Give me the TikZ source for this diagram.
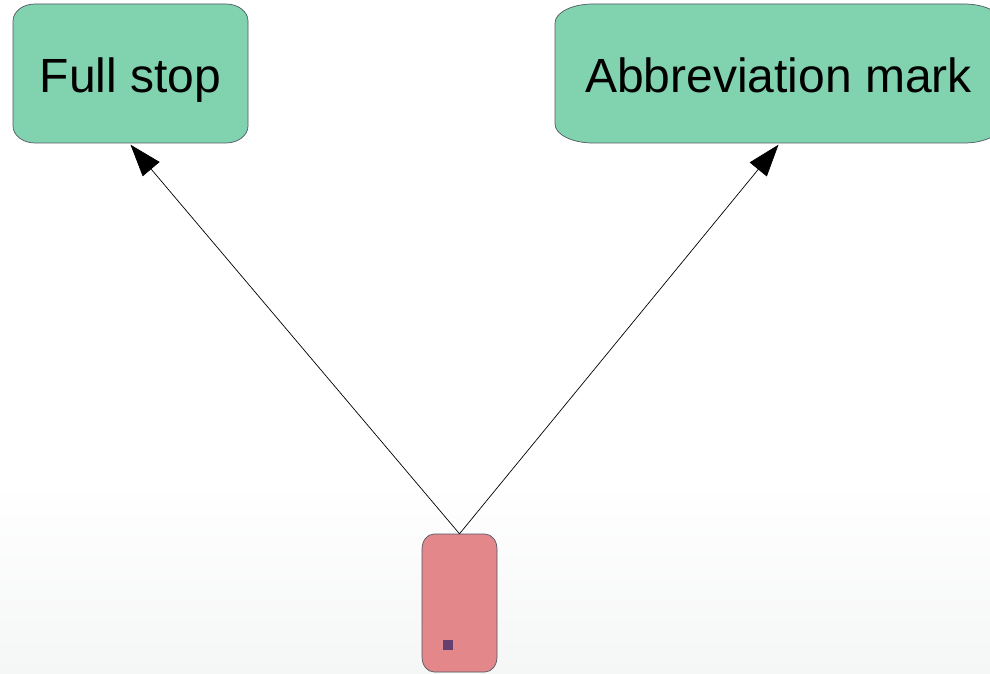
\documentclass[tikz,border=0pt]{standalone}
\usepackage{fontspec}
\setmainfont{Liberation Sans}
\usetikzlibrary{arrows.meta}
\definecolor{boxgreen}{HTML}{81D3AF}
\definecolor{boxpink}{HTML}{E3878B}
\definecolor{sqpurple}{HTML}{634070}
\definecolor{edgegray}{HTML}{4E5862}
\definecolor{bgbottom}{HTML}{F5F6F6}
\newcommand\ellbox[7]{% style, x1,y1,x2,y2,rx,ry
  \path[#1] (#2+#6,#5) -- (#4-#6,#5)
    arc[start angle=90,end angle=0,x radius=#6,y radius=#7]
    -- (#4,#3+#7)
    arc[start angle=0,end angle=-90,x radius=#6,y radius=#7]
    -- (#2+#6,#3)
    arc[start angle=270,end angle=180,x radius=#6,y radius=#7]
    -- (#2,#5-#7)
    arc[start angle=180,end angle=90,x radius=#6,y radius=#7]
    -- cycle;}
\tikzset{
  greenbox/.style={fill=boxgreen,draw=edgegray,line width=0.7pt},
  pinkbox/.style={fill=boxpink,draw=edgegray,line width=0.7pt},
  label/.style={inner sep=0pt,text height=35pt,text depth=0pt,
    font=\fontsize{48}{58}\selectfont},
  arr/.style={line width=0.7pt,-{Triangle[length=32pt,width=22pt]}}
}
\begin{document}
\begin{tikzpicture}[x=1pt,y=1pt]
\useasboundingbox (0,0) rectangle (990,673);
\fill[white] (0,0) rectangle (990,673);
\shade[top color=white,bottom color=bgbottom] (0,0) rectangle (990,190);
% boxes
\ellbox{greenbox}{13}{530}{248}{669}{22}{17}
\ellbox{greenbox}{555}{530}{1002}{669}{38}{19}
\ellbox{pinkbox}{422}{1}{497}{139}{12}{15}
\fill[sqpurple] (443,23) rectangle (453,33);
% nodes
\node[label,minimum width=235pt,minimum height=139pt] (fs) at (130.5,598) {Full stop};
\node[label,minimum width=447pt,minimum height=139pt] (ab) at (778.5,598) {Abbreviation mark};
\node[inner sep=0pt,minimum width=75pt,minimum height=138pt] (src) at (459.5,70) {};
% connectors
\draw[arr] (src.north) -- (fs.south);
\draw[arr] (src.north) -- (ab.south);
\end{tikzpicture}
\end{document}
